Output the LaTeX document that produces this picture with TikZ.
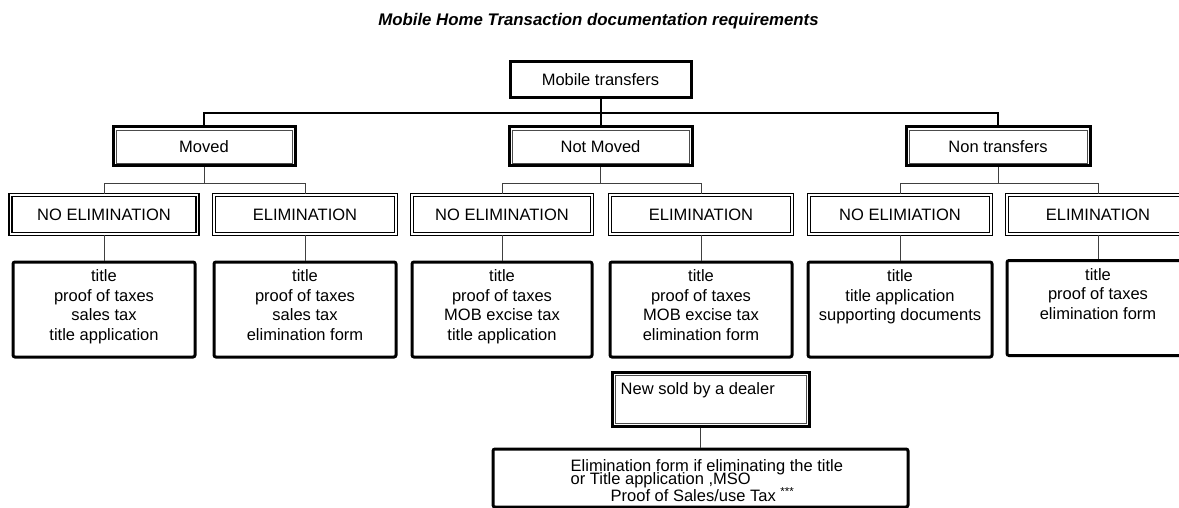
\documentclass[tikz,border=0pt]{standalone}
\usepackage{fontspec}
\setmainfont{Liberation Sans}
\usetikzlibrary{positioning}

\tikzset{
  rootbox/.style={draw, line width=3pt, minimum width=181pt, minimum height=36pt, inner sep=0pt},
  branchbox/.style={draw, line width=3pt, minimum width=183pt, minimum height=39pt, inner sep=0pt},
  casebox/.style={draw, double, line width=1.5pt, double distance=1.8pt, minimum width=182pt, minimum height=39pt, inner sep=0pt},
  docbox/.style={draw, line width=3pt, rounded corners=2pt, minimum width=182pt, minimum height=95pt, inner sep=0pt},
  doclist/.style={anchor=north, align=center, inner sep=0pt},
  trunk/.style={line width=2pt},
  twig/.style={line width=1pt, black!75},
}

\begin{document}
\begin{tikzpicture}[x=1pt, y=-1pt, font=\fontsize{16.5}{19.5}\selectfont]
\useasboundingbox (0,0) rectangle (1179,508);
\clip (0,0) rectangle (1179,508);

% heading:
\node[anchor=base, inner sep=0pt, font=\fontsize{16.8}{19}\selectfont\bfseries\itshape] (heading) at (598.5,26) {Mobile Home Transaction documentation requirements};

% top tier:
\node[rootbox] (trans) at (600.5,80) {Mobile transfers};

% 2nd tier:
\node[branchbox, minimum width=182pt] (moved) at (204,146.5) {Moved};
\node[branchbox] (notmoved) at (600.5,146.5) {Not Moved};
\node[branchbox, minimum width=184pt] (nontr) at (998,146.5) {Non transfers};

% 3rd tier:
\node[casebox, minimum width=187pt] (ne1) at (104,214.5) {NO ELIMINATION};
\node[casebox] (el1) at (305,214.5) {ELIMINATION};
\node[casebox, minimum width=180pt] (ne2) at (502,214.5) {NO ELIMINATION};
\node[casebox] (el2) at (701,214.5) {ELIMINATION};
\node[casebox] (ne3) at (900,214.5) {NO ELIMIATION};
\node[casebox] (el3) at (1098,214.5) {ELIMINATION};

% documents:
\node[docbox] (c1) at (104,309.5) {};
\node[docbox] (c2) at (305,309.5) {};
\node[docbox, minimum width=180pt] (c3) at (502,309.5) {};
\node[docbox] (c4) at (701,309.5) {};
\node[docbox, minimum width=184pt] (c5) at (900,309.5) {};
\node[docbox] (c6) at (1098,308) {};

\node[doclist] (t1) at ([shift={(0,9)}]c1.north) {title\\proof of taxes\\sales tax\\title application};
\node[doclist] (t2) at ([shift={(0,9)}]c2.north) {title\\proof of taxes\\sales tax\\elimination form};
\node[doclist] (t3) at ([shift={(0,9)}]c3.north) {title\\proof of taxes\\MOB excise tax\\title application};
\node[doclist] (t4) at ([shift={(0,9)}]c4.north) {title\\proof of taxes\\MOB excise tax\\elimination form};
\node[doclist] (t5) at ([shift={(0,9)}]c5.north) {title\\title application\\supporting documents};
\node[doclist] (t6) at ([shift={(0,9)}]c6.north) {title\\proof of taxes\\elimination form};

% dealer:
\node[branchbox, minimum width=197pt, minimum height=54pt] (dealer) at (710.5,399) {};
\node[anchor=north west, inner sep=0pt] (dealertxt) at ([shift={(10,12)}]dealer.north west) {New sold by a dealer};

\node[docbox, minimum width=415pt, minimum height=58pt] (elimbox) at (700.5,478) {};
\node[anchor=north west, align=left, inner sep=0pt] (elimtxt) at ([shift={(79,12)}]elimbox.north west)
  {Elimination form if eliminating the title\\[-6.5pt]or Title application ,MSO\\[-2.5pt]\hspace*{40pt}Proof of Sales/use Tax \textsuperscript{***}};

% inner frames:
\foreach \n in {moved,notmoved,nontr,dealer}
  \draw[line width=0.8pt, black!70] ([shift={(4.5,4.5)}]\n.north west) rectangle ([shift={(-4.5,-4.5)}]\n.south east);

% connectors:
\path (trans.south) ++(0,14) coordinate (hub);
\draw[trunk] (trans.south) -- (notmoved.north);
\draw[trunk] (moved.north) |- (hub) -| (nontr.north);

\foreach \p/\a/\b in {moved/ne1/el1, notmoved/ne2/el2, nontr/ne3/el3}{
  \draw[twig] (\p.south) -- ++(0,16) coordinate (fork);
  \draw[twig] (\a.north) |- (fork) -| (\b.north);
}

\foreach \a/\c in {ne1/c1, el1/c2, ne2/c3, el2/c4, ne3/c5, el3/c6}
  \draw[twig] (\a.south) -- (\c.north);

\draw[twig] (elimbox.north |- dealer.south) -- (elimbox.north);

\end{tikzpicture}
\end{document}
